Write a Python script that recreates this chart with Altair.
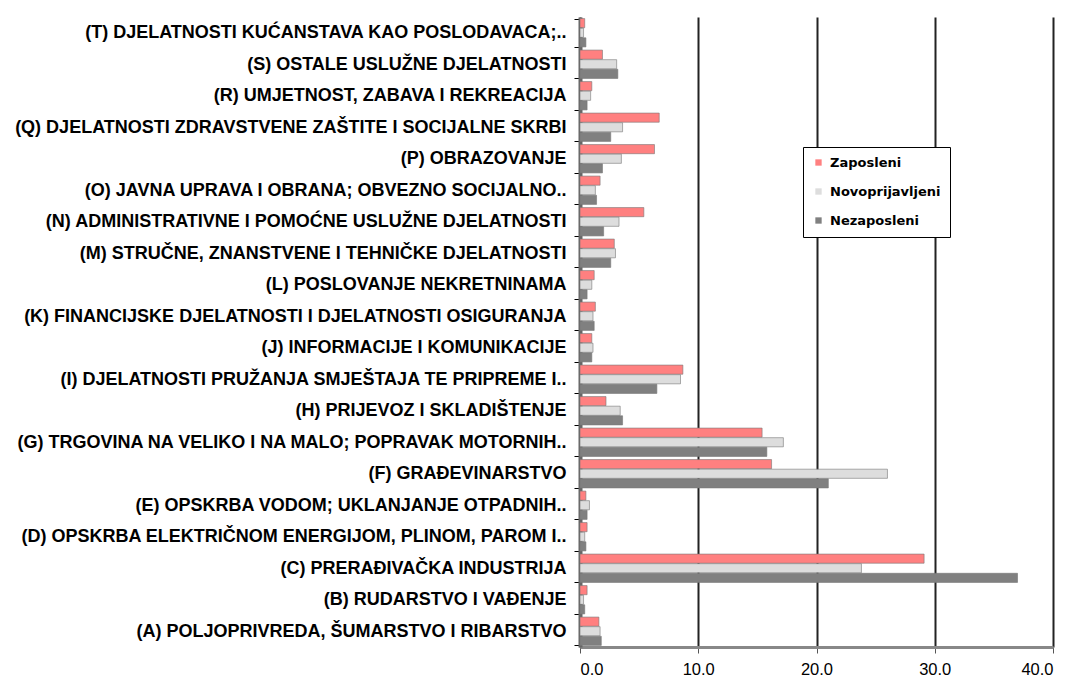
import altair as alt
import pandas as pd

categories = [
    "(A) POLJOPRIVREDA, ŠUMARSTVO I RIBARSTVO",
    "(B) RUDARSTVO I VAĐENJE",
    "(C) PRERAĐIVAČKA INDUSTRIJA",
    "(D) OPSKRBA ELEKTRIČNOM ENERGIJOM, PLINOM, PAROM I..",
    "(E) OPSKRBA VODOM; UKLANJANJE OTPADNIH..",
    "(F) GRAĐEVINARSTVO",
    "(G) TRGOVINA NA VELIKO I NA MALO; POPRAVAK MOTORNIH..",
    "(H) PRIJEVOZ I SKLADIŠTENJE",
    "(I) DJELATNOSTI PRUŽANJA SMJEŠTAJA TE PRIPREME I..",
    "(J) INFORMACIJE I KOMUNIKACIJE",
    "(K) FINANCIJSKE DJELATNOSTI I DJELATNOSTI OSIGURANJA",
    "(L) POSLOVANJE NEKRETNINAMA",
    "(M) STRUČNE, ZNANSTVENE I TEHNIČKE DJELATNOSTI",
    "(N) ADMINISTRATIVNE I POMOĆNE USLUŽNE DJELATNOSTI",
    "(O) JAVNA UPRAVA I OBRANA; OBVEZNO SOCIJALNO..",
    "(P) OBRAZOVANJE",
    "(Q) DJELATNOSTI ZDRAVSTVENE ZAŠTITE I SOCIJALNE SKRBI",
    "(R) UMJETNOST, ZABAVA I REKREACIJA",
    "(S) OSTALE USLUŽNE DJELATNOSTI",
    "(T) DJELATNOSTI KUĆANSTAVA KAO POSLODAVACA;..",
]

series = ["Zaposleni", "Novoprijavljeni", "Nezaposleni"]

zaposleni = [1.6, 0.6, 29.1, 0.6, 0.5, 16.2, 15.4, 2.2, 8.7, 1.0,
             1.3, 1.2, 2.9, 5.4, 1.7, 6.3, 6.7, 1.0, 1.9, 0.4]
novoprijavljeni = [1.7, 0.3, 23.8, 0.4, 0.8, 26.0, 17.2, 3.4, 8.5, 1.1,
                   1.1, 1.0, 3.0, 3.3, 1.3, 3.5, 3.6, 0.9, 3.1, 0.3]
nezaposleni = [1.8, 0.4, 37.0, 0.5, 0.6, 21.0, 15.8, 3.6, 6.5, 1.0,
               1.2, 0.6, 2.6, 2.0, 1.4, 1.9, 2.6, 0.6, 3.2, 0.5]

colors = ["#FF8080", "#DDDDDD", "#808080"]
x_ticks = [0, 10, 20, 30, 40]

rows = []
for vals, s in zip([zaposleni, novoprijavljeni, nezaposleni], series):
    for c, v in zip(categories, vals):
        rows.append({"Djelatnost": c, "Serija": s, "Vrijednost": v})
df = pd.DataFrame(rows)

order_top_down = list(reversed(categories))

chart = alt.Chart(df).mark_bar(stroke="#777777", strokeWidth=0.6).encode(
    y=alt.Y(
        "Djelatnost:N",
        sort=order_top_down,
        scale=alt.Scale(paddingInner=0.1, paddingOuter=0.05),
        axis=alt.Axis(
            title=None,
            labelFont="Liberation Sans",
            labelFontWeight="bold",
            labelFontSize=18,
            labelColor="#000000",
            labelLimit=700,
            labelPadding=8,
            tickBand="extent",
            tickColor="#000000",
            tickSize=6,
            domainColor="#666666",
            domainWidth=4,
            grid=False,
            minExtent=567,
            maxExtent=567,
        ),
    ),
    yOffset=alt.YOffset("Serija:N", sort=series, scale=alt.Scale(paddingInner=0.05)),
    x=alt.X(
        "Vrijednost:Q",
        scale=alt.Scale(domain=[0, 40], nice=False),
        axis=alt.Axis(
            title=None,
            values=x_ticks,
            format=".1f",
            labelFont="Liberation Sans",
            labelFontSize=16.5,
            labelColor="#000000",
            labelPadding=8,
            tickColor="#555555",
            tickSize=6,
            domainColor="#888888",
            domainWidth=3,
            grid=True,
            gridColor="#222222",
            gridWidth=2,
        ),
    ),
    color=alt.Color(
        "Serija:N",
        sort=series,
        scale=alt.Scale(domain=series, range=colors),
        legend=alt.Legend(
            title=None,
            orient="none",
            legendX=223,
            legendY=130,
            strokeColor="#000000",
            fillColor="#FFFFFF",
            padding=9,
            rowPadding=15,
            symbolType="square",
            symbolSize=40,
            symbolStrokeWidth=0,
            labelOffset=5,
            labelFont="DejaVu Sans",
            labelFontWeight="bold",
            labelFontSize=13,
            labelColor="#000000",
        ),
    ),
).properties(
    width=473,
    height=630,
    padding={"left": 5, "top": 0, "right": 5, "bottom": 0},
).configure_view(
    stroke=None
).configure_axisX(
    gridDash=[]
)

chart.save("out.html", embed_options={"renderer": "svg", "actions": False})
